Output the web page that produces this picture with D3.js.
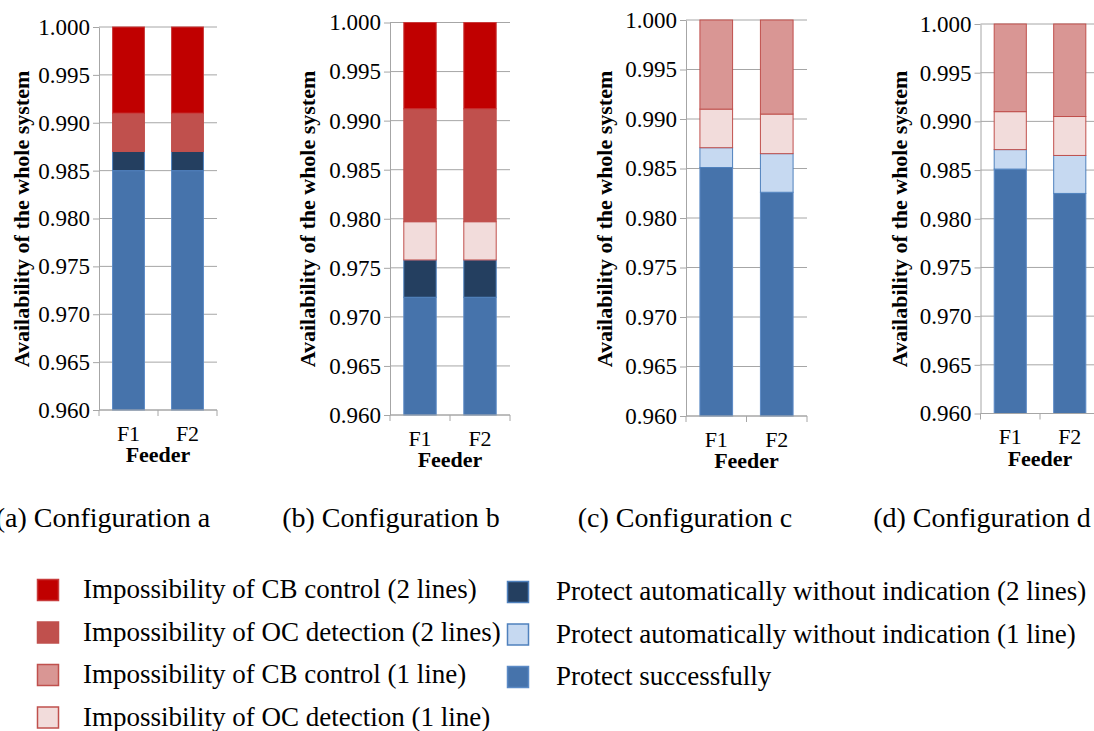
<!DOCTYPE html>
<html>
<head>
<meta charset="utf-8">
<script src="https://cdn.jsdelivr.net/npm/d3@7"></script>
<style>
  body { margin: 0; background: #fff; }
  svg { display: block; }
</style>
</head>
<body>
<svg id="chart" width="1094" height="731"></svg>
<script>
// ---- data ---------------------------------------------------------------
const feeders = ["F1", "F2"];
const captions = ["(a) Configuration a", "(b) Configuration b", "(c) Configuration c", "(d) Configuration d"];
const yTicks = [0.960, 0.965, 0.970, 0.975, 0.980, 0.985, 0.990, 0.995, 1.000];
const yTitle = "Availability of the whole system";
const xTitle = "Feeder";

// series names, stacking order bottom -> top
const seriesKeys = ["succ", "auto1", "auto2", "oc1", "oc2", "cb1", "cb2"];
const seriesNames = {
  cb2: "Impossibility of CB control (2 lines)",
  oc2: "Impossibility of OC detection (2 lines)",
  cb1: "Impossibility of CB control (1 line)",
  oc1: "Impossibility of OC detection (1 line)",
  auto2: "Protect automatically without indication (2 lines)",
  auto1: "Protect automatically without indication (1 line)",
  succ: "Protect successfully"
};

// segment sizes per configuration (a, b, c, d), each [F1, F2]
const protectSuccessfully = [[0.9850, 0.9850], [0.9720, 0.9720], [0.9851, 0.9826], [0.9851, 0.9826]];
const protectAuto1Line    = [[0, 0], [0, 0], [0.0020, 0.0039], [0.0020, 0.0039]];
const protectAuto2Lines   = [[0.0020, 0.0020], [0.0038, 0.0038], [0, 0], [0, 0]];
const ocDetection1Line    = [[0, 0], [0.0039, 0.0039], [0.0039, 0.0040], [0.0039, 0.0040]];
const ocDetection2Lines   = [[0.0040, 0.0040], [0.0115, 0.0115], [0, 0], [0, 0]];
const cbControl1Line      = [[0, 0], [0, 0], [0.0090, 0.0095], [0.0090, 0.0095]];
const cbControl2Lines     = [[0.0090, 0.0090], [0.0088, 0.0088], [0, 0], [0, 0]];

const seriesValues = {
  succ: protectSuccessfully, auto1: protectAuto1Line, auto2: protectAuto2Lines,
  oc1: ocDetection1Line, oc2: ocDetection2Lines, cb1: cbControl1Line, cb2: cbControl2Lines
};

// ---- styling --------------------------------------------------------------
const serifFont = "Liberation Serif";
const fills = {
  cb2: "#C00000", oc2: "#C0504D", cb1: "#D99694", oc1: "#F2DCDB",
  auto2: "#243F60", auto1: "#C6D9F1", succ: "#4673AB"
};
const strokes = {
  cb2: "#C83A3A", oc2: "#C0504D", cb1: "#C0504D", oc1: "#C0504D",
  auto2: "#4F81BD", auto1: "#4F81BD", succ: "#5B8AC6"
};
const gridColor = "#A6A6A6";

// panel geometry: left axis x, top, bottom, category step, y-title x, caption centre
const panels = [
  { left: 99,    top: 27,   bottom: 410,   step: 59,   titleX: 21,  capX: 103 },
  { left: 390,   top: 22.5, bottom: 415,   step: 60,   titleX: 307, capX: 391 },
  { left: 686,   top: 20,   bottom: 416,   step: 60.5, titleX: 604, capX: 685 },
  { left: 980.5, top: 24,   bottom: 413.5, step: 59.5, titleX: 899, capX: 982 }
];

const svg = d3.select("#chart");

function setText(sel, size, bold) {
  sel.attr("font-family", serifFont)
    .style("font-family", serifFont)
    .style("font-size", size + "px")
    .style("font-weight", bold ? "bold" : "normal")
    .attr("fill", "#000");
  return sel;
}

panels.forEach((p, i) => {
  const w = p.step * feeders.length;
  const h = p.bottom - p.top;
  const g = svg.append("g").attr("transform", `translate(${p.left},${p.top})`);

  const x = d3.scaleBand().domain(feeders).range([0, w]).paddingInner(0.46).paddingOuter(0.23);
  const y = d3.scaleLinear().domain([0.96, 1.0]).range([h, 0]).clamp(true);

  // gridlines
  g.append("g").selectAll("line").data(yTicks).join("line")
    .attr("x1", 0).attr("x2", w)
    .attr("y1", d => y(d)).attr("y2", d => y(d))
    .attr("stroke", gridColor).attr("stroke-width", 1);

  // stacked bars
  const rows = feeders.map((f, j) => {
    const r = { feeder: f };
    seriesKeys.forEach(k => { r[k] = seriesValues[k][i][j]; });
    return r;
  });
  const stacked = d3.stack().keys(seriesKeys)(rows);
  g.append("g").selectAll("g").data(stacked).join("g")
    .attr("fill", d => fills[d.key]).attr("stroke", d => strokes[d.key])
    .selectAll("rect").data(d => d.filter(s => s[1] - s[0] > 0)).join("rect")
    .attr("x", d => x(d.data.feeder))
    .attr("width", x.bandwidth())
    .attr("y", d => y(d[1]))
    .attr("height", d => y(d[0]) - y(d[1]))
    .attr("stroke-width", 1);

  // y axis
  const ya = g.append("g").call(
    d3.axisLeft(y).tickValues(yTicks).tickFormat(d3.format(".3f")).tickSize(6).tickSizeOuter(0).tickPadding(3)
  );
  ya.attr("font-family", serifFont);
  ya.select(".domain").attr("stroke", gridColor);
  ya.selectAll(".tick line").attr("stroke", gridColor);
  setText(ya.selectAll(".tick text"), 23, false);

  // x axis: category labels plus boundary ticks
  const xa = g.append("g").attr("transform", `translate(0,${h})`)
    .call(d3.axisBottom(x).tickSize(0).tickPadding(15));
  xa.attr("font-family", serifFont);
  xa.select(".domain").remove();
  setText(xa.selectAll(".tick text"), 22, false);
  g.append("line").attr("x1", 0).attr("x2", w).attr("y1", h).attr("y2", h).attr("stroke", gridColor);
  const bounds = d3.range(feeders.length + 1).map(k => k * x.step());
  g.append("g").selectAll("line").data(bounds).join("line")
    .attr("x1", d => d).attr("x2", d => d).attr("y1", h).attr("y2", h + 6)
    .attr("stroke", gridColor);

  // axis titles
  setText(g.append("text"), 22, true)
    .attr("x", w / 2).attr("y", h + 52).attr("text-anchor", "middle").text(xTitle);
  setText(svg.append("text"), 22, true)
    .attr("transform", `translate(${p.titleX},219) rotate(-90)`)
    .attr("text-anchor", "middle").attr("dy", "0.35em").text(yTitle);

  // caption
  setText(svg.append("text"), 28, false)
    .attr("x", p.capX).attr("y", 527).attr("text-anchor", "middle").text(captions[i]);
});

// ---- legend ---------------------------------------------------------------
const legendLeft = ["cb2", "oc2", "cb1", "oc1"];
const legendRight = ["auto2", "auto1", "succ"];
const legendCols = [
  { keys: legendLeft, sx: 37, tx: 83, y0: 590 },
  { keys: legendRight, sx: 507, tx: 556, y0: 592 }
];
legendCols.forEach(col => {
  const lg = svg.append("g").selectAll("g").data(col.keys).join("g")
    .attr("transform", (d, k) => `translate(0,${col.y0 + k * 42.5})`);
  lg.append("rect").attr("x", col.sx + 0.5).attr("y", -10.5).attr("width", 21).attr("height", 21)
    .attr("fill", d => fills[d]).attr("stroke", d => strokes[d]).attr("stroke-width", 1.5);
  setText(lg.append("text"), 27, false).attr("x", col.tx).attr("y", 8)
    .text(d => seriesNames[d]);
});
</script>
</body>
</html>
